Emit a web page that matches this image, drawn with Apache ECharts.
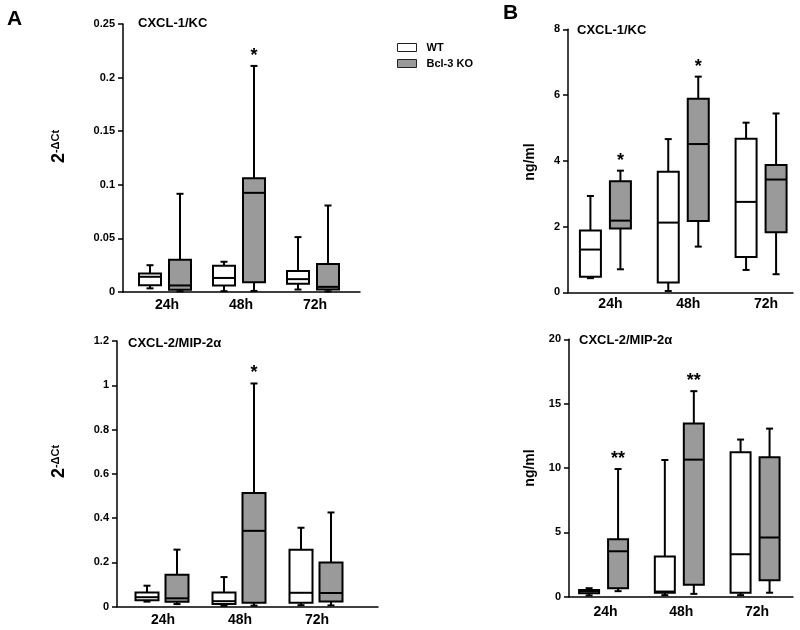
<!DOCTYPE html>
<html><head><meta charset="utf-8">
<script src="https://cdn.jsdelivr.net/npm/echarts@6/dist/echarts.min.js"></script>
<style>html,body{margin:0;padding:0;background:#fff}#c{width:800px;height:630px}</style>
</head><body><div id="c"></div>
<script>
// ---------- data ----------
const categories = ['24h', '48h', '72h'];
const seriesNames = ['WT', 'Bcl-3 KO'];
// each entry: [min, Q1, median, Q3, max]
// Panel A, CXCL-1/KC mRNA (2^-ΔCt)
const wtA1 = [[0.0034, 0.0064, 0.0142, 0.0173, 0.025], [0.0008, 0.006, 0.0131, 0.0245, 0.0282], [0.0023, 0.0077, 0.012, 0.0197, 0.0512]];
const koA1 = [[0.0006, 0.0022, 0.0061, 0.03, 0.0916], [0.001, 0.0092, 0.0925, 0.1062, 0.2109], [0.0006, 0.0023, 0.0048, 0.0262, 0.0807]];
const sigA1 = ['', '*', ''];
const axisA1 = [0, 0.25, 0.05];
// Panel A, CXCL-2/MIP-2α mRNA (2^-ΔCt)
const wtA2 = [[0.022, 0.028, 0.042, 0.063, 0.094], [0.003, 0.011, 0.024, 0.063, 0.133], [0.006, 0.017, 0.062, 0.257, 0.356]];
const koA2 = [[0.011, 0.021, 0.037, 0.144, 0.257], [0.004, 0.017, 0.342, 0.513, 1.008], [0.005, 0.023, 0.061, 0.199, 0.425]];
const sigA2 = ['', '*', ''];
const axisA2 = [0, 1.2, 0.2];
// Panel B, CXCL-1/KC protein (ng/ml)
const wtB1 = [[0.43, 0.47, 1.3, 1.88, 2.93], [0.04, 0.3, 2.12, 3.67, 4.66], [0.68, 1.07, 2.75, 4.67, 5.16]];
const koB1 = [[0.7, 1.94, 2.18, 3.38, 3.7], [1.39, 2.17, 4.51, 5.89, 6.56], [0.55, 1.83, 3.43, 3.87, 5.44]];
const sigB1 = ['*', '*', ''];
const axisB1 = [0, 8, 2];
// Panel B, CXCL-2/MIP-2α protein (ng/ml)
const wtB2 = [[0.1, 0.26, 0.41, 0.52, 0.66], [0.12, 0.3, 0.4, 3.12, 10.62], [0.12, 0.3, 3.3, 11.22, 12.21]];
const koB2 = [[0.43, 0.65, 3.53, 4.47, 9.92], [0.22, 0.92, 10.65, 13.45, 15.97], [0.31, 1.27, 4.6, 10.83, 13.06]];
const sigB2 = ['**', '**', ''];
const axisB2 = [0, 20, 5];

// ---------- layout / style ----------
const FONT = '"Liberation Sans", Arial, sans-serif';
const GRAY = '#9a9a9a';
const panels = [
  { wt: wtA1, ko: koA1, sig: sigA1, axis: axisA1, title: 'CXCL-1/KC', titlePos: [138, 17],
    frame: { left: 123, top: 24, width: 237, height: 268 }, data: { left: 128, width: 222 }, shift: 15, bw: 22, labelMargin: 6, labelPad: 4 },
  { wt: wtA2, ko: koA2, sig: sigA2, axis: axisA2, title: 'CXCL-2/MIP-2α', titlePos: [128, 337],
    frame: { left: 117, top: 341, width: 261, height: 265.5 }, data: { left: 123.5, width: 231 }, shift: 15, bw: 23, labelMargin: 6.5, labelPad: 2 },
  { wt: wtB1, ko: koB1, sig: sigB1, axis: axisB1, title: 'CXCL-1/KC', titlePos: [577, 24],
    frame: { left: 568, top: 29.3, width: 225, height: 263 }, data: { left: 566.5, width: 234 }, shift: 15, bw: 21, labelMargin: 5, labelPad: 10 },
  { wt: wtB2, ko: koB2, sig: sigB2, axis: axisB2, title: 'CXCL-2/MIP-2α', titlePos: [579, 334],
    frame: { left: 569, top: 339.3, width: 224, height: 257.4 }, data: { left: 565.7, width: 227.25 }, shift: 14.5, bw: 20, labelMargin: 8, labelPad: 4 }
];

function makeSeries(name, stats, gi, shift, fill, bw, sig) {
  return {
    type: 'custom', name: name, xAxisIndex: gi, yAxisIndex: gi,
    itemStyle: { color: fill, borderColor: '#000', borderWidth: 1 },
    encode: { x: 0, y: [1, 2, 3, 4, 5] },
    data: stats.map((s, k) => [k].concat(s)),
    renderItem: function (params, api) {
      const c = api.value(0);
      const p = [1, 2, 3, 4, 5].map(d => api.coord([c, api.value(d)]));
      const x = p[0][0] + shift;
      const yMin = p[0][1], yQ1 = p[1][1], yMed = p[2][1], yQ3 = p[3][1], yMax = p[4][1];
      const ls = { stroke: '#000', lineWidth: 2 };
      const cw = 3.5;
      const ch = [
        { type: 'line', shape: { x1: x, y1: yQ3, x2: x, y2: yMax }, style: ls },
        { type: 'line', shape: { x1: x - cw, y1: yMax, x2: x + cw, y2: yMax }, style: ls },
        { type: 'line', shape: { x1: x, y1: yQ1, x2: x, y2: yMin }, style: ls },
        { type: 'line', shape: { x1: x - cw, y1: yMin, x2: x + cw, y2: yMin }, style: ls },
        { type: 'rect', shape: { x: x - bw / 2, y: yQ3, width: bw, height: yQ1 - yQ3 }, style: { fill: fill, stroke: '#000', lineWidth: 2 } },
        { type: 'line', shape: { x1: x - bw / 2, y1: yMed, x2: x + bw / 2, y2: yMed }, style: ls }
      ];
      const s = sig && sig[params.dataIndex];
      if (s) {
        ch.push({ type: 'text', x: x, y: yMax - 1,
          style: { text: s, align: 'center', verticalAlign: 'bottom', fontSize: 18, fontWeight: 'bold', fontFamily: FONT, fill: '#000' } });
      }
      return { type: 'group', children: ch };
    }
  };
}

const grid = [], xAxis = [], yAxis = [], series = [], title = [];
panels.forEach(p => {
  const gF = grid.length;
  grid.push({ left: p.frame.left, top: p.frame.top, width: p.frame.width, height: p.frame.height });
  xAxis.push({ gridIndex: gF, type: 'value', min: 0, max: 1,
    axisLine: { show: true, onZero: false, lineStyle: { color: '#000', width: 1.5 } },
    axisTick: { show: false }, axisLabel: { show: false }, splitLine: { show: false } });
  yAxis.push({ gridIndex: gF, type: 'value', min: p.axis[0], max: p.axis[1], interval: p.axis[2],
    axisLine: { show: true, onZero: false, lineStyle: { color: '#000', width: 1.5 } },
    axisTick: { show: true, length: 5, lineStyle: { color: '#000', width: 1.5 } },
    axisLabel: { color: '#000', fontWeight: 'bold', fontSize: 11, fontFamily: FONT, margin: 8 },
    splitLine: { show: false } });
  const gD = grid.length;
  grid.push({ left: p.data.left, top: p.frame.top, width: p.data.width, height: p.frame.height });
  xAxis.push({ gridIndex: gD, type: 'category', data: categories,
    axisLine: { show: false }, axisTick: { show: false }, splitLine: { show: false },
    axisLabel: { color: '#000', fontWeight: 'bold', fontSize: 14, fontFamily: FONT, margin: p.labelMargin, padding: [0, 0, 0, p.labelPad] } });
  yAxis.push({ gridIndex: gD, type: 'value', min: p.axis[0], max: p.axis[1], show: false, splitLine: { show: false } });
  series.push(makeSeries(seriesNames[0], p.wt, gD, -p.shift, '#ffffff', p.bw, null));
  series.push(makeSeries(seriesNames[1], p.ko, gD, p.shift, GRAY, p.bw, p.sig));
  title.push({ text: p.title, left: p.titlePos[0], top: p.titlePos[1], padding: 0,
    textStyle: { fontSize: 13, fontWeight: 'bold', fontFamily: FONT, color: '#000' } });
});
title.push({ text: 'A', left: 7, top: 9, padding: 0, textStyle: { fontSize: 21, fontWeight: 'bold', fontFamily: FONT, color: '#000' } });
title.push({ text: 'B', left: 503, top: 3, padding: 0, textStyle: { fontSize: 21, fontWeight: 'bold', fontFamily: FONT, color: '#000' } });

const richY = {
  b: { fontSize: 18, fontWeight: 'bold', fontFamily: FONT, fill: '#000' },
  s: { fontSize: 11, fontWeight: 'bold', fontFamily: FONT, fill: '#000', verticalAlign: 'top' }
};
function yLabel(x, y) {
  return { type: 'text', x: x, y: y, rotation: Math.PI / 2,
    style: { text: '{b|2}{s|-ΔCt}', rich: richY, align: 'center', verticalAlign: 'middle', fill: '#000' } };
}
function unitLabel(x, y) {
  return { type: 'text', x: x, y: y, rotation: Math.PI / 2,
    style: { text: 'ng/ml', fontSize: 14, fontWeight: 'bold', fontFamily: FONT, fill: '#000', align: 'center', verticalAlign: 'middle' } };
}

const option = {
  animation: false,
  backgroundColor: '#fff',
  textStyle: { fontFamily: FONT },
  title: title,
  legend: {
    orient: 'vertical', left: 397, top: 42, padding: 0,
    itemWidth: 19, itemHeight: 8, itemGap: 5,
    textStyle: { fontSize: 11, fontWeight: 'bold', fontFamily: FONT, color: '#000', padding: [0, 0, 0, 5] },
    data: [
      { name: seriesNames[0], icon: 'rect', itemStyle: { color: '#ffffff', borderColor: '#222', borderWidth: 1 } },
      { name: seriesNames[1], icon: 'rect', itemStyle: { color: GRAY, borderColor: '#222', borderWidth: 1 } }
    ]
  },
  graphic: [yLabel(59, 146.5), yLabel(59, 461.5), unitLabel(530, 162), unitLabel(530, 468)],
  grid: grid, xAxis: xAxis, yAxis: yAxis, series: series
};
echarts.init(document.getElementById('c')).setOption(option);
</script></body></html>
